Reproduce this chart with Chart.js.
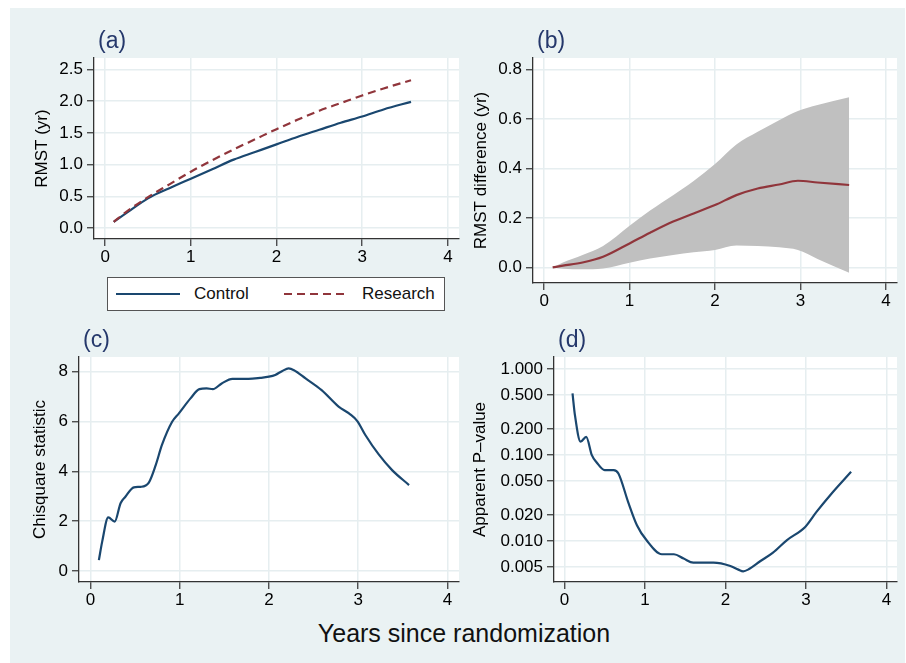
<!DOCTYPE html>
<html><head><meta charset="utf-8">
<script src="https://cdn.jsdelivr.net/npm/chart.js@4.4.1/dist/chart.umd.min.js"></script>
<style>
html,body{margin:0;padding:0;background:#fff;width:906px;height:663px;overflow:hidden;font-family:'Liberation Sans',Arial,sans-serif;}
#bg{position:absolute;left:10px;top:8px;width:895px;height:655px;background:#eaf2f3;}
canvas{position:absolute;}
#legend{position:absolute;left:107px;top:277px;width:338px;height:34px;background:#fff;border:1px solid #555;box-sizing:border-box;}
#legend .it{position:absolute;top:0;height:32px;line-height:32px;font-size:17px;color:#111;white-space:nowrap;}
#legend svg{position:absolute;top:0;}
#xtitle{position:absolute;left:164px;width:600px;top:617px;height:32px;line-height:32px;text-align:center;font-size:25px;color:#111;}
</style></head>
<body>
<div id="bg"></div>
<canvas id="ca"></canvas>
<canvas id="cb"></canvas>
<canvas id="cc"></canvas>
<canvas id="cd"></canvas>
<div id="legend"></div>
<div id="xtitle">Years since randomization</div>
<script>
// ---------- data ----------
const xTickValues = [0, 1, 2, 3, 4];

// (a) RMST by arm
const aTime     = [0.10, 0.25, 0.50, 0.75, 1.00, 1.25, 1.50, 1.75, 2.00, 2.25, 2.50, 2.75, 3.00, 3.25, 3.57];
const aControl  = [0.10, 0.24, 0.47, 0.63, 0.78, 0.93, 1.08, 1.20, 1.32, 1.44, 1.55, 1.66, 1.76, 1.87, 1.99];
const aResearch = [0.10, 0.26, 0.49, 0.69, 0.89, 1.07, 1.24, 1.40, 1.56, 1.71, 1.85, 1.97, 2.09, 2.20, 2.33];
const aYTicks   = [0, 0.5, 1.0, 1.5, 2.0, 2.5];
const seriesNames = ['Control', 'Research'];

// (b) RMST difference with CI
const bTime  = [0.10, 0.22, 0.45, 0.69, 1.00, 1.24, 1.51, 1.75, 2.00, 2.25, 2.50, 2.75, 2.97, 3.20, 3.57];
const bDiff  = [0.000, 0.007, 0.020, 0.043, 0.097, 0.140, 0.185, 0.218, 0.252, 0.292, 0.319, 0.335, 0.350, 0.343, 0.333];
const bUpper = [0.000, 0.020, 0.050, 0.086, 0.168, 0.230, 0.292, 0.349, 0.418, 0.497, 0.548, 0.595, 0.632, 0.656, 0.687];
const bLower = [0.000, -0.005, -0.007, -0.004, 0.019, 0.036, 0.050, 0.061, 0.070, 0.088, 0.086, 0.081, 0.070, 0.034, -0.022];
const bYTicks = [0, 0.2, 0.4, 0.6, 0.8];

// (c) Chisquare statistic
const cTime = [0.093, 0.13, 0.198, 0.27, 0.336, 0.39, 0.485, 0.56, 0.653, 0.73, 0.80, 0.914, 0.99, 1.12, 1.22, 1.30, 1.37, 1.47, 1.59, 1.77, 1.90, 2.00, 2.07, 2.15, 2.22, 2.28, 2.41, 2.59, 2.78, 2.91, 2.99, 3.08, 3.23, 3.38, 3.57];
const cChi  = [0.44, 1.18, 2.15, 1.98, 2.72, 2.98, 3.36, 3.38, 3.55, 4.25, 5.06, 5.99, 6.33, 6.93, 7.30, 7.33, 7.30, 7.53, 7.71, 7.71, 7.75, 7.80, 7.87, 8.03, 8.13, 8.06, 7.73, 7.26, 6.60, 6.29, 6.02, 5.46, 4.68, 4.05, 3.45];
const cYTicks = [0, 2, 4, 6, 8];

// (d) Apparent P-value
const dTime = [0.10, 0.13, 0.20, 0.27, 0.34, 0.40, 0.50, 0.61, 0.67, 0.79, 0.90, 1.02, 1.21, 1.36, 1.48, 1.60, 1.85, 2.06, 2.16, 2.22, 2.28, 2.43, 2.59, 2.76, 2.99, 3.13, 3.30, 3.56];
const dP    = [0.521, 0.291, 0.143, 0.163, 0.0998, 0.0819, 0.0667, 0.0667, 0.061, 0.0286, 0.0153, 0.0102, 0.00702, 0.00702, 0.00625, 0.00561, 0.00561, 0.00513, 0.00465, 0.00445, 0.00465, 0.00582, 0.00734, 0.0102, 0.0146, 0.0218, 0.0341, 0.0638];
const dYTicks = [1, 0.5, 0.2, 0.1, 0.05, 0.02, 0.01, 0.005];

// ---------- styling ----------
const FONT = "'Liberation Sans', Arial, sans-serif";
const NAVY = '#1a476f', MAROON = '#90353b', BAND = '#c0c0c0';
const GRID = '#e6eef0', AXIS = '#333333';

const panelPlugin = {
  id: 'panelDecor',
  beforeDraw(chart) {
    const {ctx, chartArea: a} = chart;
    ctx.save(); ctx.fillStyle = '#fff';
    ctx.fillRect(a.left, a.top, a.right - a.left, a.bottom - a.top);
    ctx.restore();
  },
  afterDraw(chart, args, opts) {
    if (!opts || !opts.text) return;
    const {ctx, chartArea: a} = chart;
    ctx.save();
    ctx.font = '23px ' + FONT; ctx.fillStyle = '#25386b';
    ctx.textBaseline = 'middle'; ctx.textAlign = 'left';
    ctx.fillText(opts.text, a.left + 4, a.top - 16);
    ctx.restore();
  }
};

function pts(xs, ys) { return xs.map((x, i) => ({x: x, y: ys[i]})); }

function makeChart(id, box, area, datasets, yCfg, label) {
  const cv = document.getElementById(id);
  cv.width = box.w; cv.height = box.h;
  cv.style.left = box.x + 'px'; cv.style.top = box.y + 'px';
  cv.style.width = box.w + 'px'; cv.style.height = box.h + 'px';
  const yW = area.l - box.x, xH = box.y + box.h - area.b;
  const padTop = area.t - box.y, padRight = box.x + box.w - area.r;
  const tickFont = {size: 17, family: FONT};
  const yScale = {
    type: yCfg.type || 'linear', min: yCfg.min, max: yCfg.max,
    afterBuildTicks: s => { s.ticks = yCfg.ticks.map(v => ({value: v})); },
    afterFit: s => { s.width = yW; },
    grid: {color: GRID, lineWidth: 1.5, tickColor: AXIS, tickLength: 7, tickWidth: 1.2},
    border: {color: AXIS, width: 1.3},
    ticks: {color: '#000', font: tickFont, padding: 4, autoSkip: false, callback: yCfg.fmt},
    title: {display: true, text: yCfg.title, color: '#000', font: tickFont, padding: {top: yCfg.tpad, bottom: 0}}
  };
  return new Chart(cv, {
    type: 'line',
    data: {datasets: datasets},
    plugins: [panelPlugin],
    options: {
      responsive: false, animation: false, devicePixelRatio: 1,
      layout: {padding: {top: padTop, right: padRight, left: 0, bottom: 0}},
      plugins: {legend: {display: false}, tooltip: {enabled: false}, panelDecor: {text: label}},
      elements: {point: {radius: 0}, line: {borderWidth: 2.2, cubicInterpolationMode: 'monotone'}},
      scales: {
        x: {
          type: 'linear', min: -0.13, max: 4.13,
          afterBuildTicks: s => { s.ticks = xTickValues.map(v => ({value: v})); },
          afterFit: s => { s.height = xH; },
          grid: {color: GRID, lineWidth: 1.5, tickColor: AXIS, tickLength: 7, tickWidth: 1.2},
          border: {color: AXIS, width: 1.3},
          ticks: {color: '#000', font: tickFont, padding: 1, maxRotation: 0, autoSkip: false, callback: v => String(v)}
        },
        y: yScale
      }
    }
  });
}

// (a)
makeChart('ca', {x: 10, y: 8, w: 450, h: 262}, {l: 94, t: 58, r: 459, b: 239}, [
  {label: seriesNames[0], data: pts(aTime, aControl), borderColor: NAVY, order: 1},
  {label: seriesNames[1], data: pts(aTime, aResearch), borderColor: MAROON, borderDash: [8, 5], order: 0}
], {min: -0.17, max: 2.68, ticks: aYTicks, fmt: v => v.toFixed(1), title: 'RMST (yr)', tpad: 22}, '(a)');

// (b)
makeChart('cb', {x: 460, y: 8, w: 440, h: 305}, {l: 533, t: 58, r: 897, b: 283}, [
  {label: 'diff', data: pts(bTime, bDiff), borderColor: MAROON, order: 0},
  {label: 'upper', data: pts(bTime, bUpper), borderWidth: 0, borderColor: 'rgba(0,0,0,0)', backgroundColor: BAND, fill: '+1', order: 2},
  {label: 'lower', data: pts(bTime, bLower), borderWidth: 0, borderColor: 'rgba(0,0,0,0)', fill: false, order: 3}
], {min: -0.063, max: 0.846, ticks: bYTicks, fmt: v => v.toFixed(1), title: 'RMST difference (yr)', tpad: 11}, '(b)');

// (c)
makeChart('cc', {x: 10, y: 310, w: 450, h: 302}, {l: 79, t: 357, r: 459, b: 582}, [
  {label: 'chi', data: pts(cTime, cChi), borderColor: NAVY}
], {min: -0.44, max: 8.59, ticks: cYTicks, fmt: v => String(v), title: 'Chisquare statistic', tpad: 20}, '(c)');

// (d)
makeChart('cd', {x: 460, y: 310, w: 440, h: 302}, {l: 554, t: 357, r: 897, b: 582}, [
  {label: 'p', data: pts(dTime, dP), borderColor: NAVY}
], {type: 'logarithmic', min: 0.00334, max: 1.38, ticks: dYTicks, fmt: v => Number(v).toFixed(3), title: 'Apparent P\u2013value', tpad: 10}, '(d)');

// legend for (a)
(function () {
  const lg = document.getElementById('legend');
  const items = [
    {name: seriesNames[0], color: NAVY, dash: '', sx: 8, tx: 86},
    {name: seriesNames[1], color: MAROON, dash: '8 5', sx: 176, tx: 254}
  ];
  items.forEach(it => {
    const svg = document.createElementNS('http://www.w3.org/2000/svg', 'svg');
    svg.setAttribute('width', '66'); svg.setAttribute('height', '32');
    svg.style.left = it.sx + 'px';
    const ln = document.createElementNS('http://www.w3.org/2000/svg', 'line');
    ln.setAttribute('x1', '0'); ln.setAttribute('x2', '64');
    ln.setAttribute('y1', '16'); ln.setAttribute('y2', '16');
    ln.setAttribute('stroke', it.color); ln.setAttribute('stroke-width', '2.2');
    if (it.dash) ln.setAttribute('stroke-dasharray', it.dash);
    svg.appendChild(ln); lg.appendChild(svg);
    const t = document.createElement('div');
    t.className = 'it'; t.style.left = it.tx + 'px'; t.textContent = it.name;
    lg.appendChild(t);
  });
})();
</script>
</body></html>
